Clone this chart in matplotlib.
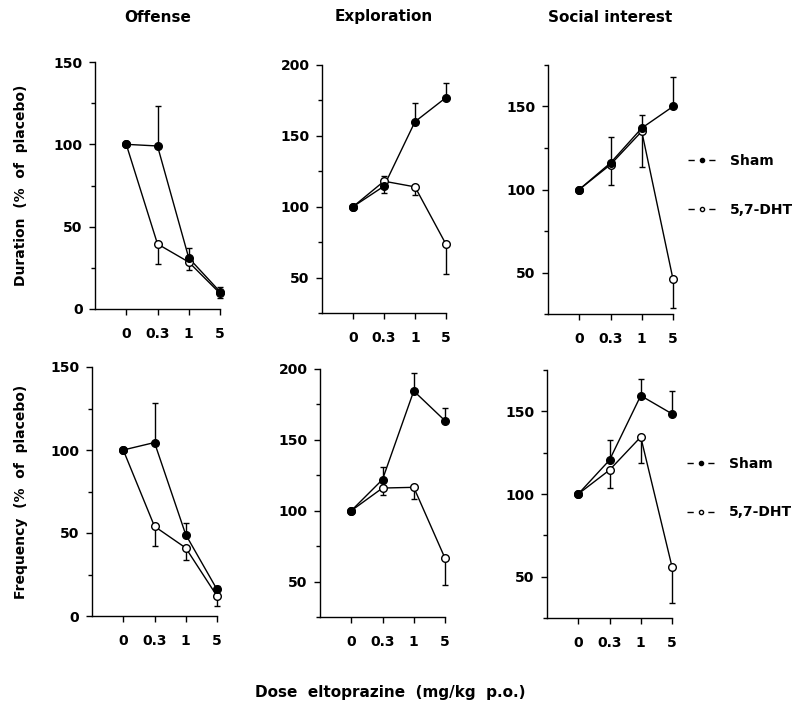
import matplotlib
matplotlib.use("Agg")
import matplotlib.pyplot as plt
from matplotlib.lines import Line2D
from matplotlib.ticker import MultipleLocator
import numpy as np

plt.rcParams['font.family'] = ['DejaVu Sans']
plt.rcParams['font.weight'] = 'bold'

doses = ["0", "0.3", "1", "5"]
titles = ["Offense", "Exploration", "Social interest"]
row_labels = ["Duration  (%  of  placebo)", "Frequency  (%  of  placebo)"]

# duration (% of placebo); signed error: + drawn up, - drawn down
off_dur_sham = [100, 99, 31, 10.5]
off_dur_sham_err = [0, 24, 6, 3]
off_dur_dht = [100, 39.5, 28.5, 9.5]
off_dur_dht_err = [0, -12, -5, -3]
exp_dur_sham = [100, 114.5, 160, 177]
exp_dur_sham_err = [0, -5, 13, 10]
exp_dur_dht = [100, 118, 114, 73.5]
exp_dur_dht_err = [0, 4, -6, -21]
soc_dur_sham = [100, 116, 137, 150]
soc_dur_sham_err = [0, 15.5, 8, 18]
soc_dur_dht = [100, 115, 135, 46]
soc_dur_dht_err = [0, -12, -21.5, -17.5]

# frequency (% of placebo)
off_frq_sham = [100, 104.5, 49, 16]
off_frq_sham_err = [0, 24, 7, 2]
off_frq_dht = [100, 54, 41, 12]
off_frq_dht_err = [0, -12, -7, -6]
exp_frq_sham = [100, 122, 184.5, 163.5]
exp_frq_sham_err = [0, 9, 13, 9]
exp_frq_dht = [100, 116, 116.5, 66.5]
exp_frq_dht_err = [0, -5, -8, -19]
soc_frq_sham = [100, 120.5, 159.5, 148.5]
soc_frq_sham_err = [0, 12, 10, 14]
soc_frq_dht = [100, 114.5, 134.5, 56]
soc_frq_dht_err = [0, -11, -16, -22]

panels = [
    [(off_dur_sham, off_dur_sham_err, off_dur_dht, off_dur_dht_err),
     (exp_dur_sham, exp_dur_sham_err, exp_dur_dht, exp_dur_dht_err),
     (soc_dur_sham, soc_dur_sham_err, soc_dur_dht, soc_dur_dht_err)],
    [(off_frq_sham, off_frq_sham_err, off_frq_dht, off_frq_dht_err),
     (exp_frq_sham, exp_frq_sham_err, exp_frq_dht, exp_frq_dht_err),
     (soc_frq_sham, soc_frq_sham_err, soc_frq_dht, soc_frq_dht_err)],
]
ylims = [(0, 150), (25, 200), (25, 175)]

W, H = 800, 702
# axes boxes in pixels: left, right, top, bottom
boxes = [
    [(95, 220, 62, 309), (322, 446, 65, 313), (548, 673, 65, 314)],
    [(92, 217, 367, 616), (320, 445, 369, 617), (547, 672, 370, 618)],
]
legend_y = [0.516, 0.524]

fig = plt.figure(figsize=(W / 100, H / 100), dpi=100)

x = np.arange(1, len(doses) + 1)


def draw_series(ax, y, err, filled):
    y = np.array(y, float)
    err = np.array(err, float)
    lo = np.where(err < 0, -err, 0)
    hi = np.where(err > 0, err, 0)
    m = err != 0
    ax.errorbar(x[m], y[m], yerr=[lo[m], hi[m]], fmt='none', ecolor='black',
                elinewidth=1, capsize=2.5, capthick=1, zorder=2, clip_on=False)
    ax.plot(x, y, '-', color='black', lw=1, zorder=3, clip_on=False)
    ax.plot(x, y, 'o', ms=5.5, mec='black', mew=1,
            mfc='black' if filled else 'white', zorder=4, clip_on=False)


for r in range(2):
    for c in range(3):
        l, rr, t, b = boxes[r][c]
        ax = fig.add_axes([l / W, 1 - b / H, (rr - l) / W, (b - t) / H])
        sham, sham_err, dht, dht_err = panels[r][c]
        draw_series(ax, dht, dht_err, False)
        draw_series(ax, sham, sham_err, True)
        ax.set_xlim(0, 4)
        ax.set_ylim(*ylims[c])
        ax.set_xticks(x)
        ax.set_xticklabels(doses)
        ax.yaxis.set_major_locator(MultipleLocator(50))
        ax.yaxis.set_minor_locator(MultipleLocator(25))
        ax.spines['top'].set_visible(False)
        ax.spines['right'].set_visible(False)
        for s in ('left', 'bottom'):
            ax.spines[s].set_linewidth(1)
        ax.tick_params(axis='both', which='major', labelsize=10, width=1,
                       length=4, direction='out')
        ax.tick_params(axis='y', which='minor', length=3, width=1)
        ax.tick_params(axis='x', pad=9)
        ax.tick_params(axis='y', pad=5)
        for lab in ax.get_xticklabels() + ax.get_yticklabels():
            lab.set_fontweight('bold')
        if r == 0:
            fig.text((l + rr) / 2 / W, 1 - 17 / H, titles[c], ha='center',
                     va='center', fontsize=11, fontweight='bold')
        if c == 0:
            fig.text(21 / W, 1 - (t + b) / 2 / H, row_labels[r], rotation=90,
                     ha='center', va='center', fontsize=10, fontweight='bold')
        if c == 2:
            handles = [
                Line2D([], [], color='black', lw=1, ls=(0, (4.5, 10.5)),
                       marker='o', ms=3, mfc='black', mec='black'),
                Line2D([], [], color='black', lw=1, ls=(0, (4.5, 10.5)),
                       marker='o', ms=3, mfc='white', mec='black'),
            ]
            ax.legend(handles, ["Sham", "5,7-DHT"], loc='center left',
                      bbox_to_anchor=(1.12, legend_y[r]), frameon=False,
                      handlelength=1.95, handletextpad=1.05, labelspacing=2.5,
                      borderpad=0, borderaxespad=0, numpoints=1,
                      prop={'size': 10, 'weight': 'bold'})

fig.text(390 / W, 1 - 692 / H, "Dose  eltoprazine  (mg/kg  p.o.)",
         ha='center', va='center', fontsize=11, fontweight='bold')

fig.savefig("out.png", dpi=100)
